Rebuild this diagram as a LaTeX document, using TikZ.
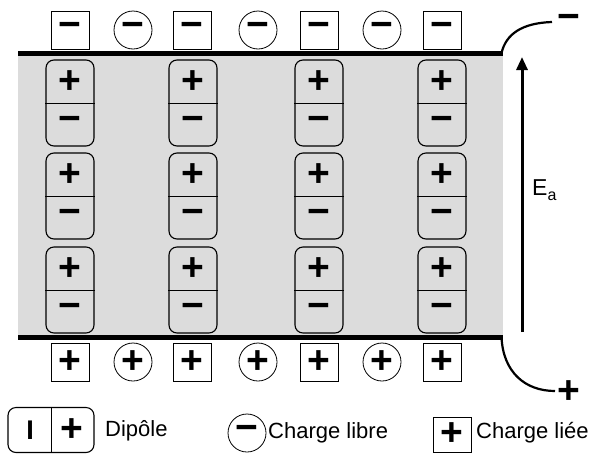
\documentclass[tikz,border=0pt]{standalone}
\usepackage{fontspec}
\setmainfont{Liberation Sans}
\usetikzlibrary{arrows.meta}
\definecolor{bg}{HTML}{DCDCDC}
\tikzset{
  sqch/.style={draw, line width=0.8pt, fill=white, minimum size=38pt, inner sep=0pt, font=\fontsize{39}{39}\selectfont\bfseries},
  circch/.style={draw, circle, line width=0.8pt, fill=white, minimum size=38pt, inner sep=0pt, font=\fontsize{39}{39}\selectfont\bfseries},
  dipbox/.style={draw, line width=1.1pt, rounded corners=8pt, minimum width=48pt, minimum height=86pt, inner sep=0pt},
  glyph/.style={inner sep=0pt, font=\fontsize{39}{39}\selectfont\bfseries},
  plate/.style={line width=5pt},
  wire/.style={line width=2.2pt},
  lbl/.style={inner sep=0pt, anchor=west, font=\fontsize{22}{22}\selectfont},
}
\begin{document}
\begin{tikzpicture}[x=1pt,y=-1pt]
\useasboundingbox (0,0) rectangle (596,453);
\fill[bg] (18,53) rectangle (503,337);
% plates
\draw[plate] (18,53) -- (503,53);
\draw[plate] (18,337) -- (503,337);
\coordinate (tl) at (501.5,53);
\coordinate (bl) at (501.5,337);
\node[glyph] (tm) at (569,22) {−};
\node[glyph] (bp) at (569,392) {+};
\coordinate (te) at (552,22);
\coordinate (be) at (555,391);
\draw[wire] (tl) .. controls (506,34) and (522,23) .. (te);
\draw[wire] (bl) .. controls (503,372) and (525,391) .. (be);
% top/bottom charges
\foreach \x [count=\i] in {70,192,319,442} {
  \node[sqch] (ts\i) at (\x,30) {−};
  \node[sqch] (bs\i) at (\x,362) {+};
}
\foreach \x [count=\i] in {133,258,382} {
  \node[circch] (tc\i) at (\x,30) {−};
  \node[circch] (bc\i) at (\x,362) {+};
}
% dipoles
\foreach \x [count=\i] in {70,193,319,442} {
  \foreach \y [count=\j] in {103,196,290} {
    \node[dipbox] (d\i\j) at (\x,\y) {};
    \draw[line width=1pt] (d\i\j.west) -- (d\i\j.east);
    \node[glyph] (dp\i\j) at (\x,\y-21) {+};
    \node[glyph] (dm\i\j) at (\x,\y+21) {−};
  }
}
% field arrow
\coordinate (ab) at (522,332);
\coordinate (at) at (522,57);
\draw[line width=3pt, -{Triangle[width=11pt,length=13pt]}] (ab) -- (at);
\node[inner sep=0pt, anchor=west, font=\fontsize{23}{23}\selectfont] (ea) at (532,190) {E\raisebox{-0.2em}{\fontsize{16}{16}\selectfont a}};
% legend
\node[dipbox, minimum width=86pt, minimum height=45pt] (ld) at (51,430) {};
\draw[line width=1pt] (ld.north) -- (ld.south);
\node[inner sep=0pt, font=\fontsize{27}{27}\selectfont\bfseries] (li) at (30,430) {I};
\node[glyph] (lp) at (72,430) {+};
\node[lbl] (ldt) at (105,431) {Dipôle};
\node[circch] (lc) at (247,433) {−};
\node[lbl] (lct) at (268,433) {Charge libre};
\node[sqch, minimum height=35pt, minimum width=38pt] (ls) at (452,434.5) {+};
\node[lbl] (lst) at (476,433) {Charge liée};
\end{tikzpicture}
\end{document}
